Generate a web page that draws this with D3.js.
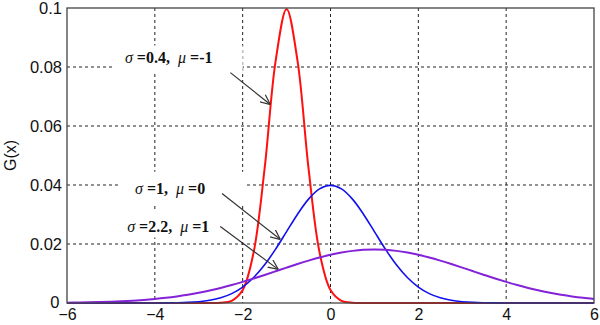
<!DOCTYPE html>
<html lang="en">
<meta charset="utf-8">
<style>
body {
  margin: 0;
  background: #fff;
  font-family: Arial, 'Liberation Sans', sans-serif;
}
.grid line {
  stroke: #222;
  stroke-dasharray: 3,3;
  stroke-width: 1;
}
.tick text {
  font-size: 16.5px;
  fill: #111;
}
.xax .tick text {
  font-size: 16px;
}
.note {
  font-family: 'Liberation Serif', 'Times New Roman', serif;
  font-size: 16px;
  font-weight: bold;
  fill: #111;
  white-space: pre;
}
</style>
<body>
<div id="chart"></div>
<script src="https://d3js.org/d3.v7.min.js"></script>
<script>

// x positions shared by all three curves
var xs = [-6, -5.75, -5.5, -5.25, -5, -4.75, -4.5, -4.25, -4, -3.75, -3.5, -3.25,
          -3, -2.75, -2.5, -2.25, -2, -1.75, -1.5, -1.25, -1, -0.75, -0.5, -0.25,
          0, 0.25, 0.5, 0.75, 1, 1.25, 1.5, 1.75, 2, 2.25, 2.5, 2.75,
          3, 3.25, 3.5, 3.75, 4, 4.25, 4.5, 4.75, 5, 5.25, 5.5, 5.75, 6];

// sigma=0.4, mu=-1
var red = [0, 0, 0, 0, 0, 0, 0, 0, 0, 0, 0, 0,
           0, 0, 0.00009, 0.00075, 0.00438, 0.0172, 0.0456, 0.0820, 0.0997, 0.0820, 0.0456, 0.0172,
           0.00438, 0.00075, 0.00009, 0, 0, 0, 0, 0, 0, 0, 0, 0,
           0, 0, 0, 0, 0, 0, 0, 0, 0, 0, 0, 0, 0];

// sigma=1, mu=0
var blue = [0, 0, 0, 0, 0, 0, 0, 0, 0.00001, 0.00004, 0.00009, 0.00020,
            0.00044, 0.00091, 0.00175, 0.00317, 0.00540, 0.00863, 0.01295, 0.01826, 0.02420, 0.03011, 0.03521, 0.03867,
            0.03989, 0.03867, 0.03521, 0.03011, 0.02420, 0.01826, 0.01295, 0.00863, 0.00540, 0.00317, 0.00175, 0.00091,
            0.00044, 0.00020, 0.00009, 0.00004, 0.00001, 0, 0, 0, 0, 0, 0, 0, 0];

// sigma=2.2, mu=1
var purple = [0.00011, 0.00016, 0.00023, 0.00032, 0.00044, 0.00060, 0.00080, 0.00105, 0.00137, 0.00176, 0.00224, 0.00281,
              0.00347, 0.00424, 0.00511, 0.00609, 0.00716, 0.00830, 0.00951, 0.01075, 0.01200, 0.01322, 0.01437, 0.01543,
              0.01635, 0.01711, 0.01767, 0.01802, 0.01813, 0.01802, 0.01767, 0.01711, 0.01635, 0.01543, 0.01437, 0.01322,
              0.01200, 0.01075, 0.00951, 0.00830, 0.00716, 0.00609, 0.00511, 0.00424, 0.00347, 0.00281, 0.00224, 0.00176, 0.00137];

var xTicks = [-6, -4, -2, 0, 2, 4, 6];
var yTicks = [0, 0.02, 0.04, 0.06, 0.08, 0.1];
var yTickLabels = ["0", "0.02", "0.04", "0.06", "0.08", "0.1"];

// annotation text, its start (data units), and the arrow from -> to (data units)
var notes = [
  {sig: "0.4", mu: "-1", tx: -4.68, ty: 0.0815, from: [-2.28, 0.0781], to: [-1.37, 0.0673]},
  {sig: "1", mu: "0", tx: -4.45, ty: 0.0368, from: [-2.47, 0.0371], to: [-1.14, 0.0215]},
  {sig: "2.2", mu: "1", tx: -4.63, ty: 0.0239, from: [-2.51, 0.0259], to: [-1.19, 0.0114]}
];

// white patches behind the labels that hide the grid: [x0, x1, yTop, yBottom]
var labelBoxes = [[-4.97, -2.0, 0.0873, 0.0785], [-4.8, -1.95, 0.0445, 0.0335], [-4.8, -2.1, 0.0315, 0.0222]];

var width = 600,
    height = 325;
var margin = {top: 8, right: 6, bottom: 22, left: 67};
var w = width - margin.left - margin.right,
    h = height - margin.top - margin.bottom;

var svg = d3.select("#chart").append("svg")
    .attr("width", width)
    .attr("height", height);

svg.append("defs").append("marker")
    .attr("id", "arr")
    .attr("viewBox", "0 0 10 10")
    .attr("refX", 10)
    .attr("refY", 5)
    .attr("markerWidth", 10)
    .attr("markerHeight", 10)
    .attr("markerUnits", "userSpaceOnUse")
    .attr("orient", "auto")
  .append("path")
    .attr("d", "M0,0.5 L10,5 L0,9.5")
    .attr("fill", "none")
    .attr("stroke", "#333")
    .attr("stroke-width", 1.2);

var g = svg.append("g")
    .attr("transform", "translate(" + margin.left + "," + margin.top + ")");

var x = d3.scaleLinear().domain([-6, 6]).range([0, w]);
var y = d3.scaleLinear().domain([0, 0.1]).range([h, 0]);

// grid
var grid = g.append("g").attr("class", "grid");
grid.selectAll(".gx")
    .data(xTicks.slice(1, -1))
  .enter().append("line")
    .attr("x1", function(d) { return x(d); })
    .attr("x2", function(d) { return x(d); })
    .attr("y1", 0)
    .attr("y2", h);
grid.selectAll(".gy")
    .data(yTicks.slice(1, -1))
  .enter().append("line")
    .attr("x1", 0)
    .attr("x2", w)
    .attr("y1", function(d) { return y(d); })
    .attr("y2", function(d) { return y(d); });

g.selectAll(".bg")
    .data(labelBoxes)
  .enter().append("rect")
    .attr("x", function(d) { return x(d[0]); })
    .attr("y", function(d) { return y(d[2]); })
    .attr("width", function(d) { return x(d[1]) - x(d[0]); })
    .attr("height", function(d) { return y(d[3]) - y(d[2]); })
    .attr("fill", "#fff");

var line = d3.line()
    .x(function(d) { return x(d[0]); })
    .y(function(d) { return y(d[1]); })
    .curve(d3.curveCatmullRom);

var series = [
  {vals: red, color: "#ff1010", sw: 2},
  {vals: blue, color: "#1010ee", sw: 1.6},
  {vals: purple, color: "#8422d8", sw: 2}
];
series.forEach(function(s) {
  g.append("path")
      .datum(xs.map(function(v, i) { return [v, s.vals[i]]; }))
      .attr("d", line)
      .attr("fill", "none")
      .attr("stroke", s.color)
      .attr("stroke-width", s.sw);
});

// frame
g.append("rect")
    .attr("width", w)
    .attr("height", h)
    .attr("fill", "none")
    .attr("stroke", "#444")
    .attr("stroke-width", 1.3);

// axes
var xAxis = g.append("g")
    .attr("class", "xax")
    .attr("transform", "translate(0," + h + ")")
    .call(d3.axisBottom(x).tickValues(xTicks).tickSize(0).tickPadding(6));
xAxis.select(".domain").remove();

var yAxis = g.append("g")
    .call(d3.axisLeft(y).tickValues(yTicks).tickSize(0).tickPadding(5)
      .tickFormat(function(d, i) { return yTickLabels[i]; }));
yAxis.select(".domain").remove();
yAxis.selectAll(".tick text")
    .attr("dy", function(d) { return d === 0 ? "0.28em" : "0.33em"; })
    .attr("dx", function(d) { return d === 0 ? -2.5 : 0; });

g.append("text")
    .attr("transform", "translate(" + (-57) + "," + (h / 2) + ") rotate(-90)")
    .attr("text-anchor", "middle")
    .attr("dy", "0.35em")
    .style("font-size", "16px")
    .style("fill", "#111")
    .text("G(x)");

// annotations
notes.forEach(function(n) {
  var t = g.append("text")
      .attr("class", "note")
      .attr("x", x(n.tx))
      .attr("y", y(n.ty));
  t.append("tspan").style("font-style", "italic").style("font-weight", "normal").text("\u03c3 ");
  t.append("tspan").text("=" + n.sig + ",  ");
  t.append("tspan").style("font-style", "italic").style("font-weight", "normal").text("\u03bc ");
  t.append("tspan").text("=" + n.mu);

  g.append("line")
      .attr("x1", x(n.from[0]))
      .attr("y1", y(n.from[1]))
      .attr("x2", x(n.to[0]))
      .attr("y2", y(n.to[1]))
      .attr("stroke", "#333")
      .attr("stroke-width", 1.2)
      .attr("marker-end", "url(#arr)");
});

</script>
</body>
</html>
